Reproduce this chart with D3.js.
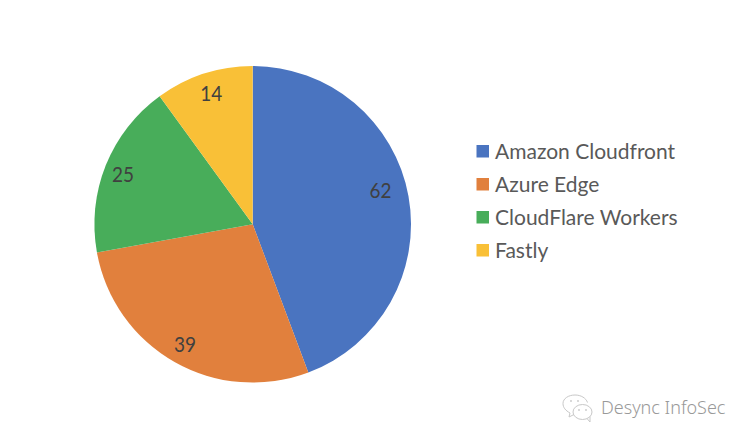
<!DOCTYPE html>
<html><head><meta charset="utf-8">
<script src="https://cdn.jsdelivr.net/npm/d3@7/dist/d3.min.js"></script>
<style>html,body{margin:0;padding:0;background:#fff}svg{display:block}text{font-family:Lato,"Open Sans",sans-serif}</style>
</head><body><svg id="c" width="750" height="443"></svg>
<script>
const categories = ["Amazon Cloudfront","Azure Edge","CloudFlare Workers","Fastly"];
const values = [62,39,25,14];
const colors = ["#4A74C0","#E1803D","#48AD5A","#F9C037"];
const watermark = "Desync InfoSec";
const labelNudges = [[-7,-9],[0,1],[-2.5,1.5],[1,0]];

const svg = d3.select("#c");
const cx = 252.7, cy = 224.3, R = 158.3;
const color = d3.scaleOrdinal(categories, colors);
const pie = d3.pie().sort(null).value(d => d.v);
const data = pie(categories.map((c,i) => ({c, v: values[i], i})));
const arc = d3.arc().innerRadius(0).outerRadius(R);
const labelArc = d3.arc().innerRadius(137).outerRadius(137);
const g = svg.append("g").attr("transform", `translate(${cx},${cy})`);
g.selectAll("path").data(data).join("path").attr("d", arc).attr("fill", d => color(d.data.c));
g.selectAll("text").data(data).join("text")
  .attr("transform", d => {
    const p = labelArc.centroid(d), n = labelNudges[d.data.i];
    return `translate(${p[0]+n[0]},${p[1]+n[1]})`;
  })
  .attr("text-anchor","middle").attr("dy","0.35em")
  .attr("font-size",21).attr("textLength",22).attr("lengthAdjust","spacingAndGlyphs")
  .attr("fill","#404040").text(d => d.data.v);

const y = d3.scalePoint(categories,[152,251]);
const lg = svg.append("g");
const row = lg.selectAll("g").data(categories).join("g").attr("transform", d => `translate(476.5,${y(d)})`);
row.append("rect").attr("x",0).attr("y",-7).attr("width",12.5).attr("height",12.5).attr("fill", d => color(d));
row.append("text").attr("x",18.5).attr("dy","0.35em").attr("font-size",21).attr("fill","#595959").text(d => d);

// watermark
const wm = svg.append("g").attr("fill","none").attr("stroke","#c8c8c8").attr("stroke-width",1);
wm.append("path").attr("d","M570 413 C565.5 410.5 563 407.5 563 403.5 C563 398.5 568.5 395 575 395 C581 395 586 398 587.5 402.5");
wm.append("path").attr("d","M570 413 L569 417 L574 414.5");
wm.append("ellipse").attr("cx",582.5).attr("cy",412).attr("rx",9.5).attr("ry",7.5);
wm.append("path").attr("d","M587 418.5 L590 422 L590 416.5");
const eyes = [[571,401],[578,401],[579,410],[586,410]];
svg.append("g").selectAll("circle").data(eyes).join("circle")
  .attr("cx",d=>d[0]).attr("cy",d=>d[1]).attr("r",0.9).attr("fill","#c8c8c8");
svg.append("text").attr("x",601).attr("y",414).attr("font-size",18).attr("fill","#999999")
  .style("font-family","'Noto Sans',sans-serif").style("font-weight",300).text(watermark);
</script></body></html>
